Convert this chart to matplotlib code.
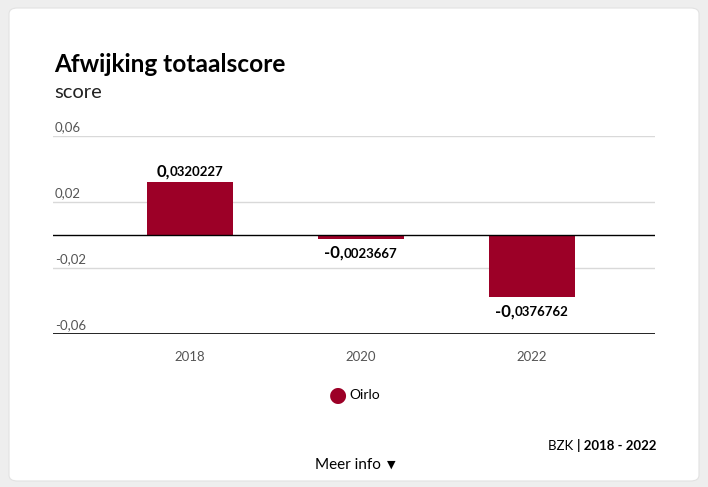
import matplotlib.pyplot as plt
from matplotlib.patches import FancyBboxPatch
from matplotlib.offsetbox import TextArea, HPacker, AnnotationBbox

plt.rcParams['font.family'] = ['Lato', 'DejaVu Sans']

years = ['2018', '2020', '2022']
values = [0.0320227, -0.0023667, -0.0376762]
series_name = 'Oirlo'
ticks = [0.06, 0.02, -0.02, -0.06]

bar_color = '#9c0027'
W, H = 708, 487
fig = plt.figure(figsize=(W / 100, H / 100), dpi=100, facecolor='#eeeeee')

# white card behind everything
card = FancyBboxPatch((9 / W, 6 / H), 690 / W, 473 / H,
                      boxstyle='round,pad=0,rounding_size=0.012',
                      transform=fig.transFigure, facecolor='white',
                      edgecolor='#e2e2e2', linewidth=0.8, zorder=-10)
fig.patches.append(card)

ax = fig.add_axes([53 / W, 1 - 334 / H, 602 / W, 198 / H])
ax.set_facecolor('none')
x = range(len(years))
ax.bar(x, values, width=0.5, color=bar_color, zorder=3)
ax.set_xlim(-0.80, 2.72)
ax.set_ylim(-0.06, 0.06)

for t in ticks:
    ax.axhline(t, color='#d9d9d9', linewidth=1, zorder=1)
    ax.text(0.003, t + 0.0015, f'{t:.2f}'.replace('.', ','), transform=ax.get_yaxis_transform(),
            ha='left', va='bottom', fontsize=9.5, color='#555555')
ax.axhline(0, color='black', linewidth=1, zorder=4)
ax.axhline(-0.06, color='black', linewidth=1.2, zorder=4)

for s in ax.spines.values():
    s.set_visible(False)
ax.set_yticks([])
ax.set_xticks(list(x))
ax.set_xticklabels(years, fontsize=9.5, color='#555555')
ax.tick_params(axis='x', length=0, pad=12)

# value labels: large integer part, smaller decimals
for i, v in enumerate(values):
    s = f'{v:.7f}'
    intpart, dec = s.split('.')
    big = TextArea(intpart + ',', textprops=dict(fontsize=12, fontweight='bold', color='black'))
    small = TextArea(dec, textprops=dict(fontsize=9.5, fontweight='bold', color='black'))
    box = HPacker(children=[big, small], align='baseline', pad=0, sep=0)
    off = 8 if v >= 0 else -10
    ab = AnnotationBbox(box, (i, v), xybox=(0, off), xycoords='data',
                        boxcoords='offset points', frameon=False, box_alignment=(0.5, 0.5))
    ax.add_artist(ab)

# title and subtitle
fig.text(54 / W, 1 - 65 / H, 'Afwijking totaalscore', fontsize=17.6, fontweight='bold',
         ha='left', va='center', color='black')
fig.text(54 / W, 1 - 92 / H, 'score', fontsize=14.5,
         ha='left', va='center', color='#222222')

# legend
fig.text(338 / W, 1 - 395 / H, '\u25cf', fontsize=15, color=bar_color, ha='center', va='center',
         family=['DejaVu Sans'])
fig.text(349 / W, 1 - 395 / H, series_name, fontsize=10, ha='left', va='center', color='black')

# footer
src = TextArea('BZK ', textprops=dict(fontsize=9.5, color='black'))
per = TextArea('| 2018 - 2022', textprops=dict(fontsize=9.5, fontweight='bold', color='black'))
foot = HPacker(children=[src, per], align='baseline', pad=0, sep=0)
fig.add_artist(AnnotationBbox(foot, (656 / W, 1 - 446 / H), xycoords='figure fraction',
                              frameon=False, box_alignment=(1, 0.5)))
fig.text(348 / W, 1 - 465 / H, 'Meer info', fontsize=11, ha='center', va='center', color='black')
fig.text(391 / W, 1 - 465 / H, '\u25bc', fontsize=8, ha='center', va='center', color='black',
         family=['DejaVu Sans'])

fig.savefig('out.png', dpi=100, facecolor=fig.get_facecolor())
